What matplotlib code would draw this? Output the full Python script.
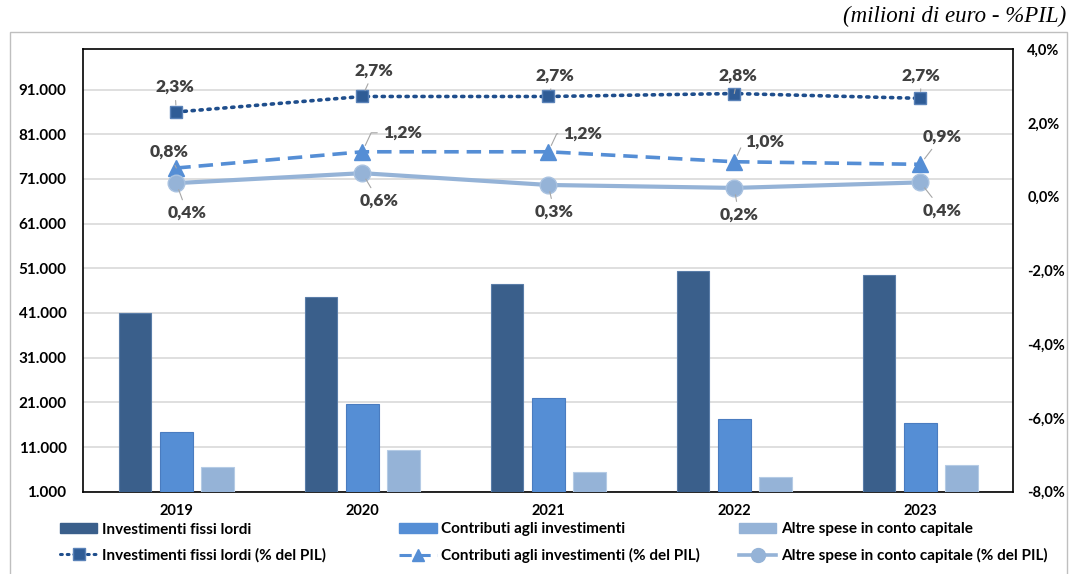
import numpy as np
import matplotlib
matplotlib.use('Agg')
import matplotlib.pyplot as plt
from matplotlib.patches import Rectangle
from matplotlib.lines import Line2D
from matplotlib.patches import Patch

# dati (milioni di euro e % del PIL)
anni = ['2019', '2020', '2021', '2022', '2023']
inv_fissi = [41100, 44500, 47400, 50400, 49600]
contributi = [14400, 20550, 21900, 17300, 16300]
altre_spese = [6450, 10300, 5450, 4200, 6900]
inv_fissi_pil = [2.30, 2.72, 2.72, 2.80, 2.67]
contributi_pil = [0.78, 1.22, 1.22, 0.95, 0.88]
altre_spese_pil = [0.37, 0.64, 0.32, 0.24, 0.39]
lbl_inv = ['2,3%', '2,7%', '2,7%', '2,8%', '2,7%']
lbl_contr = ['0,8%', '1,2%', '1,2%', '1,0%', '0,9%']
lbl_altre = ['0,4%', '0,6%', '0,3%', '0,2%', '0,4%']
left_ticks = [1000, 11000, 21000, 31000, 41000, 51000, 61000, 71000, 81000, 91000]
right_ticks = [-8, -6, -4, -2, 0, 2, 4]

FONT = 'Lato'
c_dark = '#3A5F8B'
c_mid = '#558ED5'
c_light = '#95B3D7'
c_line_dark = '#1F4E8C'
c_txt = '#404040'
c_lead = '#A6A6A6'

plt.rcParams['font.family'] = FONT
plt.rcParams['font.weight'] = 'bold'

fig = plt.figure(figsize=(10.70, 5.74), dpi=100)

# cornice esterna grigia
fig.add_artist(Rectangle((10/1070, -0.02), 1057/1070, (574-32)/574 + 0.02,
                         transform=fig.transFigure, fill=False,
                         edgecolor='#BFBFBF', lw=1.0))

ax = fig.add_axes([83.3/1070, (574-491.7)/574, 930/1070, 442.4/574])
x = np.arange(len(anni))
w = 0.177
off = 0.222
ax.bar(x - off, inv_fissi, w, color=c_dark, edgecolor='#5A7DA8', lw=0.8, zorder=3)
ax.bar(x, contributi, w, color=c_mid, edgecolor='#4A7CC0', lw=0.8, zorder=3)
ax.bar(x + off, altre_spese, w, color=c_light, edgecolor='#B5CBE5', lw=0.8, zorder=3)

ax.set_xlim(-0.5, 4.5)
ax.set_ylim(1000, 100000)
ax.set_yticks(left_ticks)
ax.set_yticklabels([f'{v:,}'.replace(',', '.') for v in left_ticks])
ax.set_xticks(x)
ax.set_xticklabels(anni)
ax.yaxis.grid(True, color='#D9D9D9', lw=1.2, zorder=0)
ax.set_axisbelow(True)
ax.tick_params(axis='y', length=0, pad=12, labelsize=11, labelcolor='black')
ax.tick_params(axis='x', length=0, pad=9, labelsize=10.5, labelcolor='black')
for s in ax.spines.values():
    s.set_color('black')
    s.set_linewidth(1.2)

ax2 = ax.twinx()
ax2.set_ylim(-8, 4)
ax2.set_yticks(right_ticks)
ax2.set_yticklabels([f'{v:.1f}%'.replace('.', ',') for v in right_ticks])
ax2.tick_params(axis='y', length=0, pad=10, labelsize=10.5, labelcolor='black')
for s in ax2.spines.values():
    s.set_visible(False)

ax2.plot(x, inv_fissi_pil, color=c_line_dark, lw=2.6, ls=(0, (0.6, 1.6)),
         dash_capstyle='round', marker='s', ms=9, mfc='#2F5C96', mec='#5A82B8',
         mew=1, zorder=5)
ax2.plot(x, contributi_pil, color=c_mid, lw=2.6, ls=(0, (4, 2.2)),
         marker='^', ms=11, mfc=c_mid, mec=c_mid, zorder=5)
ax2.plot(x, altre_spese_pil, color=c_light, lw=3, ls='-',
         marker='o', ms=12, mfc=c_light, mec='#A9C2E0', zorder=5)

k = 0.72  # px -> punti
lead = dict(arrowstyle='-', color=c_lead, lw=0.8, shrinkB=5)

inv_off = [(-1.5, 25), (11.7, 26), (7, 21), (3.5, 18), (1, 23)]
for i, (dx, dy) in enumerate(inv_off):
    ax2.annotate(lbl_inv[i], xy=(i, inv_fissi_pil[i]), xytext=(dx*k, dy*k),
                 textcoords='offset points', ha='center', va='center',
                 fontsize=12.5, weight='heavy', color=c_txt, arrowprops=lead, zorder=6)

contr_off = [(-7.5, 16), (40, 19), (34.6, 18), (30, 20), (21.4, 28)]
for i, (dx, dy) in enumerate(contr_off):
    ap = dict(lead)
    if i in (1, 2, 3):
        ap['connectionstyle'] = 'angle,angleA=0,angleB=65,rad=0'
        ap['relpos'] = (0, 0.5)
    ax2.annotate(lbl_contr[i], xy=(i, contributi_pil[i]), xytext=(dx*k, dy*k),
                 textcoords='offset points', ha='center', va='center',
                 fontsize=12.5, weight='heavy', color=c_txt, arrowprops=ap, zorder=6)

altre_off = [(11, -30), (16.4, -27.7), (6, -27), (4.5, -27), (22, -28)]
for i, (dx, dy) in enumerate(altre_off):
    ax2.annotate(lbl_altre[i], xy=(i, altre_spese_pil[i]), xytext=(dx*k, dy*k),
                 textcoords='offset points', ha='center', va='center',
                 fontsize=12.5, weight='heavy', color=c_txt, arrowprops=lead, zorder=6)

# legenda su tre colonne
h_bar = [Patch(facecolor=c_dark, edgecolor=c_dark),
         Patch(facecolor=c_mid, edgecolor=c_mid),
         Patch(facecolor=c_light, edgecolor=c_light)]
h_line = [Line2D([], [], color=c_line_dark, lw=2.2, ls=(0, (0.6, 1.6)),
                 dash_capstyle='round', marker='s', ms=8, mfc='#2F5C96', mec='#5A82B8'),
          Line2D([], [], color=c_mid, lw=2.2, ls=(0, (4, 2.2)), marker='^', ms=9,
                 mfc=c_mid, mec=c_mid),
          Line2D([], [], color=c_light, lw=2.6, marker='o', ms=10, mfc=c_light,
                 mec=c_light)]
nomi = ['Investimenti fissi lordi', 'Contributi agli investimenti',
        'Altre spese in conto capitale']
col_x = [59.9, 399.4, 739]
for j in range(3):
    leg = fig.legend([h_bar[j], h_line[j]], [nomi[j], nomi[j] + ' (% del PIL)'],
                     loc='center left', bbox_to_anchor=(col_x[j]/1070, 1 - 542.5/574),
                     frameon=False, fontsize=11, handlelength=2.45,
                     handleheight=0.6, handletextpad=0.3, labelspacing=0.75,
                     borderpad=0, borderaxespad=0, numpoints=1)
    for t in leg.get_texts():
        t.set_color('black')

fig.text(1066/1070, 1 - 16/574, '(milioni di euro - %PIL)', ha='right', va='center',
         family='Liberation Serif', style='italic', weight='normal', fontsize=16.5)

fig.savefig('out.png', dpi=100)
